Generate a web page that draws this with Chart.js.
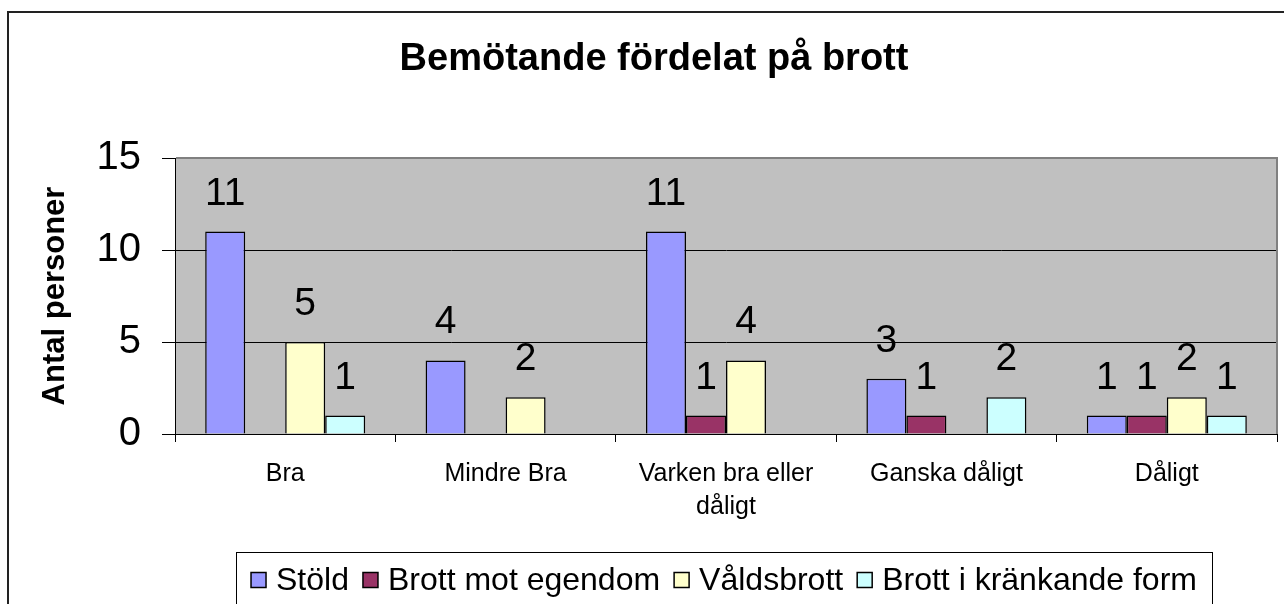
<!DOCTYPE html>
<html><head><meta charset="utf-8">
<script src="https://cdn.jsdelivr.net/npm/chart.js@4"></script>
<style>html,body{margin:0;padding:0;background:#fff}#wrap{width:1284px;height:604px;position:relative}</style>
</head><body><div id="wrap"><canvas id="c" width="1284" height="604"></canvas></div>
<script>
const categories = [['Bra'], ['Mindre Bra'], ['Varken bra eller', 'dåligt'], ['Ganska dåligt'], ['Dåligt']];
const seriesNames = ['Stöld', 'Brott mot egendom', 'Våldsbrott', 'Brott i kränkande form'];
const stold = [11, 4, 11, 3, 1];
const egendom = [0, 0, 1, 1, 1];
const vald = [5, 2, 4, 0, 2];
const krankande = [1, 0, 0, 2, 1];
const yTickValues = [0, 5, 10, 15];
const titleText = 'Bemötande fördelat på brott';
const yTitleText = 'Antal personer';
const seriesColors = ['#9999FF', '#993366', '#FFFFCC', '#CCFFFF'];

const FONT = "'Liberation Sans', Arial, Helvetica, sans-serif";

const decor = {
  id: 'decor',
  beforeDraw(chart) {
    const ctx = chart.ctx, a = chart.chartArea;
    ctx.save();
    ctx.fillStyle = '#fff';
    ctx.fillRect(0, 0, chart.width, chart.height);
    ctx.strokeStyle = '#222';
    ctx.lineWidth = 2;
    ctx.strokeRect(8, 12, 1400, 700);
    ctx.fillStyle = '#C0C0C0';
    ctx.fillRect(a.left, a.top, a.right - a.left, a.bottom - a.top);
    ctx.restore();
  },
  afterDatasetsDraw(chart) {
    const ctx = chart.ctx, a = chart.chartArea;
    ctx.save();
    ctx.strokeStyle = '#808080';
    ctx.lineWidth = 2;
    ctx.beginPath();
    ctx.moveTo(a.left + 1, a.top);
    ctx.lineTo(a.right, a.top);
    ctx.lineTo(a.right, a.bottom);
    ctx.stroke();
    // data labels
    ctx.fillStyle = '#000';
    ctx.font = '39px ' + FONT;
    ctx.textAlign = 'center';
    ctx.textBaseline = 'alphabetic';
    chart.data.datasets.forEach((ds, i) => {
      const meta = chart.getDatasetMeta(i);
      meta.data.forEach((el, j) => {
        const v = ds.data[j];
        if (v > 0) ctx.fillText(String(v), el.x, el.y - 27);
      });
    });
    ctx.restore();
  },
  afterDraw(chart) {
    const ctx = chart.ctx;
    ctx.save();
    // title
    ctx.fillStyle = '#000';
    ctx.font = 'bold 38px ' + FONT;
    ctx.textAlign = 'center';
    ctx.textBaseline = 'alphabetic';
    ctx.fillText(titleText, 654, 70);
    // legend
    const boxL = 236, boxR = 1212, boxT = 552;
    ctx.font = '32px ' + FONT;
    const mk = 15, gapMT = 10, gapItem = 14;
    const widths = chart.data.datasets.map(d => ctx.measureText(d.label).width);
    let total = widths.reduce((s, w) => s + w + mk + gapMT, 0) + gapItem * (widths.length - 1);
    let x = (boxL + boxR) / 2 - total / 2;
    ctx.strokeStyle = '#000';
    ctx.lineWidth = 1;
    ctx.strokeRect(boxL + 0.5, boxT + 0.5, boxR - boxL, 200);
    const cy = 580;
    ctx.textAlign = 'left';
    ctx.textBaseline = 'middle';
    chart.data.datasets.forEach((d, i) => {
      ctx.fillStyle = d.backgroundColor;
      ctx.fillRect(x, cy - mk / 2, mk, mk);
      ctx.strokeStyle = '#000';
      ctx.lineWidth = 1.5;
      ctx.strokeRect(x, cy - mk / 2, mk, mk);
      ctx.fillStyle = '#000';
      ctx.fillText(d.label, x + mk + gapMT, cy + 1);
      x += mk + gapMT + widths[i] + gapItem;
    });
    ctx.restore();
  }
};

const seriesData = [stold, egendom, vald, krankande];

new Chart(document.getElementById('c'), {
  type: 'bar',
  data: {
    labels: categories,
    datasets: seriesNames.map((name, i) => ({
      label: name,
      data: seriesData[i],
      backgroundColor: seriesColors[i],
      borderColor: '#000',
      borderWidth: 1.5,
      categoryPercentage: 0.726,
      barPercentage: 1.0
    }))
  },
  options: {
    responsive: false,
    animation: false,
    devicePixelRatio: 1,
    layout: { padding: { left: 0, top: 158, right: 7, bottom: 70 } },
    plugins: { legend: { display: false }, title: { display: false }, tooltip: { enabled: false } },
    scales: {
      x: {
        offset: true,
        grid: { offset: true, drawOnChartArea: false, drawTicks: true, tickLength: 8, color: '#000', lineWidth: 1 },
        border: { display: true, color: '#000', width: 1 },
        ticks: { color: '#000', font: { family: FONT, size: 25, lineHeight: 1.3 }, padding: 16, maxRotation: 0, autoSkip: false },
        afterFit(s) { s.height = 100; }
      },
      y: {
        min: 0, max: 15,
        afterBuildTicks(s) { s.ticks = yTickValues.map(v => ({ value: v })); },
        grid: { color: '#000', lineWidth: 1, tickLength: 13 },
        border: { display: true, color: '#000', width: 1 },
        ticks: { color: '#000', font: { family: FONT, size: 40 }, padding: 21 },
        title: { display: true, text: yTitleText, color: '#000', font: { family: FONT, size: 31, weight: 'bold' }, padding: { top: 37, bottom: 0 } },
        afterFit(s) { s.width = 175; }
      }
    }
  },
  plugins: [decor]
});
</script>
</body></html>
